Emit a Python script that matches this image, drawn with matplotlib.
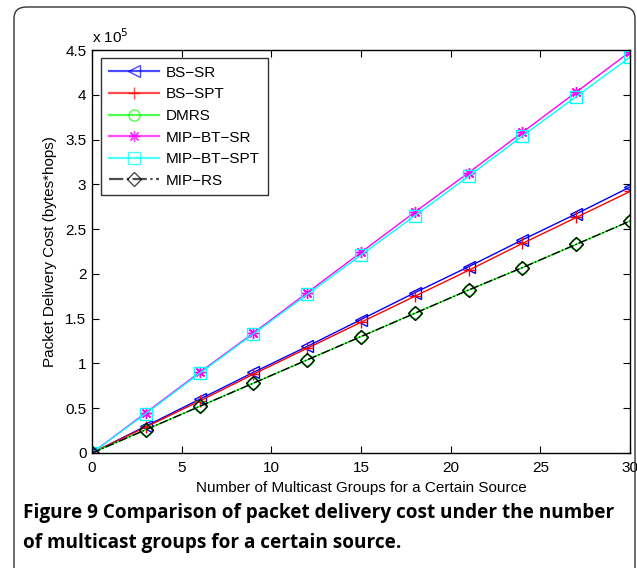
import matplotlib
matplotlib.use("Agg")
import matplotlib.pyplot as plt
from matplotlib.patches import FancyBboxPatch
import numpy as np

groups = [0, 3, 6, 9, 12, 15, 18, 21, 24, 27, 30]
bs_sr = [0, 0.30, 0.60, 0.90, 1.19, 1.49, 1.79, 2.08, 2.38, 2.67, 2.97]
bs_spt = [0, 0.29, 0.58, 0.88, 1.17, 1.46, 1.75, 2.04, 2.34, 2.63, 2.92]
dmrs = [0, 0.26, 0.52, 0.78, 1.04, 1.30, 1.56, 1.82, 2.07, 2.33, 2.59]
mip_bt_sr = [0, 0.45, 0.90, 1.34, 1.79, 2.24, 2.69, 3.13, 3.58, 4.03, 4.48]
mip_bt_spt = [0, 0.44, 0.89, 1.33, 1.77, 2.21, 2.65, 3.09, 3.54, 3.98, 4.42]
mip_rs = [0, 0.26, 0.52, 0.78, 1.04, 1.30, 1.56, 1.82, 2.07, 2.33, 2.59]

xticks = [0, 5, 10, 15, 20, 25, 30]
yticks = [0, 0.5, 1, 1.5, 2, 2.5, 3, 3.5, 4, 4.5]
ytick_labels = ["0", "0.5", "1", "1.5", "2", "2.5", "3", "3.5", "4", "4.5"]

plt.rcParams['font.family'] = ['Liberation Sans', 'DejaVu Sans']

fig = plt.figure(figsize=(6.37, 5.68), dpi=100)
frame = FancyBboxPatch((14/637, -0.1), 621/637, 1 - 7/568 + 0.1,
                       boxstyle="round,pad=0,rounding_size=0.02",
                       transform=fig.transFigure, fill=False,
                       edgecolor='#333333', linewidth=1.0)
fig.patches.append(frame)

ax = fig.add_axes([92/637, 1 - 453/568, (630 - 92)/637, (453 - 50)/568])
ms = 8
asterisk = (8, 2, 0)
ax.plot(groups, bs_sr, color='#0000ff', marker='<', mfc='none', ms=ms, lw=1, label='BS\u2212SR')
ax.plot(groups, bs_spt, color='#ff0000', marker='+', ms=ms + 1, lw=1, label='BS\u2212SPT')
ax.plot(groups, dmrs, color='#00ff00', marker='o', mfc='none', ms=ms, lw=1, label='DMRS')
ax.plot(groups, mip_bt_sr, color='#ff00ff', marker=asterisk, ms=ms, lw=1, label='MIP\u2212BT\u2212SR')
ax.plot(groups, mip_bt_spt, color='#00ffff', marker='s', mfc='none', ms=ms, lw=1, label='MIP\u2212BT\u2212SPT')
ax.plot(groups, mip_rs, color='black', marker='D', mfc='none', ms=7, lw=1, ls='-.', label='MIP\u2212RS')

ax.set_xlim(0, 30)
ax.set_ylim(0, 4.5)
ax.set_xticks(xticks)
ax.set_yticks(yticks)
ax.set_yticklabels(ytick_labels)
ax.tick_params(direction='in', top=True, right=True, length=5, labelsize=11)
ax.tick_params(axis='x', pad=6)
ax.tick_params(axis='y', pad=4)
for s in ax.spines.values():
    s.set_linewidth(1.0)
ax.set_xlabel('Number of Multicast Groups for a Certain Source', fontsize=11, labelpad=4)
ax.set_ylabel('Packet Delivery Cost (bytes*hops)', fontsize=11, labelpad=6)
ax.text(0, 1.01, 'x 10$^5$', transform=ax.transAxes, fontsize=11, ha='left', va='bottom')

leg = ax.legend(loc='upper left', bbox_to_anchor=((101 - 92)/538, (453 - 58)/403),
                borderaxespad=0, fontsize=11,
                frameon=True, fancybox=False, edgecolor='black', handlelength=3.3,
                borderpad=0.5, labelspacing=0.5, handletextpad=0.45)
leg.get_frame().set_linewidth(1.0)
for h in leg.get_lines():
    h.set_linewidth(1.6)
    h.set_alpha(0.7)

fig.text(23/637, 1 - 513/568, 'Figure 9 Comparison of packet delivery cost under the number',
         fontsize=13.7, fontweight='bold', family='Open Sans', va='center', ha='left')
fig.text(23/637, 1 - 543/568, 'of multicast groups for a certain source.',
         fontsize=13.7, fontweight='bold', family='Open Sans', va='center', ha='left')

fig.savefig('out.png', dpi=100)
